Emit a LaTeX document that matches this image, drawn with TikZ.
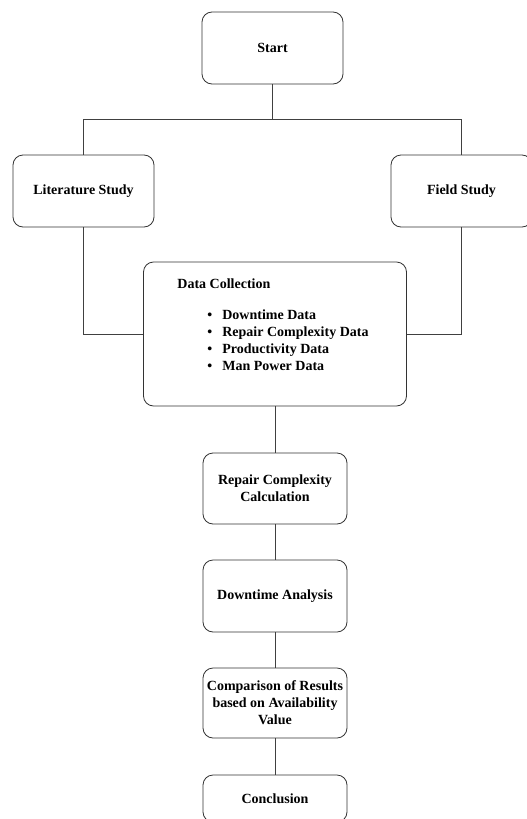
\documentclass[tikz,border=0pt]{standalone}
\usepackage{fontspec}
\setmainfont{Liberation Serif}
\usetikzlibrary{calc}
\tikzset{
	box/.style={draw=black!80, line width=0.8pt, rounded corners=10pt, minimum width=141pt, minimum height=72pt, align=center, inner sep=2pt, font=\fontsize{14}{17}\selectfont\bfseries},
	link/.style={draw=black!75, line width=0.8pt}
}
\newcommand{\bul}{\hspace*{30pt}\textbullet\hspace{10pt}}

\begin{document}
\begin{tikzpicture}[x=1pt, y=-1pt]
		%%%%% START %%%%%
		\useasboundingbox (0, 0) rectangle (527, 819);
		\clip (0, 0) rectangle (527, 819);
		
		\node[box] (start) at (272.5, 48) {Start};
		\node[box] (lit) at (83.5, 191) {Literature Study};
		\node[box] (field) at (461.5, 191) {Field Study};
		
		\node[box, minimum width=263pt, minimum height=144pt] (data) at (275, 334) {%
			\begin{tabular}{@{}l@{}}
				Data Collection\\[14pt]
				\bul Downtime Data\\
				\bul Repair Complexity Data\\
				\bul Productivity Data\\
				\bul Man Power Data\\[16pt]
			\end{tabular}\hspace*{4pt}};
		
		\node[box, minimum width=144pt, minimum height=71pt] (repair) at (275, 488.5) {Repair Complexity\\Calculation};
		\node[box, minimum width=144pt] (down) at (275, 596) {Downtime Analysis};
		\node[box, minimum width=144pt, minimum height=70pt] (comp) at (275, 703) {Comparison of Results\\based on Availability\\Value};
		\node[box, minimum width=144pt, minimum height=47pt] (concl) at (275, 798.5) {Conclusion};
		
		\coordinate (split) at ($(start.south)+(0, 35)$);
		\draw[link] (start.south) -- (split);
		\draw[link] (lit.north) |- (split) -| (field.north);
		
		\draw[link] (lit.south) |- (data.west);
		\draw[link] (field.south) |- (data.east);
		
		\draw[link] (data.south) -- (repair.north);
		\draw[link] (repair.south) -- (down.north);
		\draw[link] (down.south) -- (comp.north);
		\draw[link] (comp.south) -- (concl.north);
		%%%%% END %%%%%
	\end{tikzpicture}
\end{document}
